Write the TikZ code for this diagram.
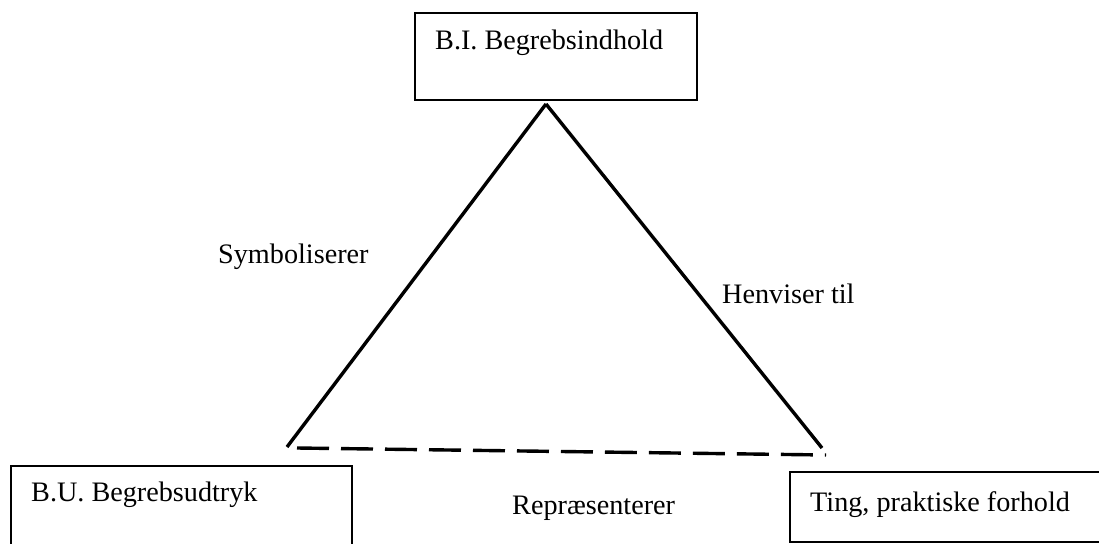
\documentclass[tikz,border=0pt]{standalone}
\usepackage{fontspec}
\setmainfont{Liberation Serif}
\begin{document}
\begin{tikzpicture}[x=1pt,y=-1pt,
  conceptbox/.style={draw=black,line width=1.1pt},
  lbl/.style={font=\fontsize{28.2}{32}\selectfont,inner sep=0pt,anchor=base west},
  edge/.style={line width=3.4pt,line cap=butt},
  dashedge/.style={line width=3.4pt,dash pattern=on 32pt off 12pt}]
\useasboundingbox (0,0) rectangle (1099,543);
\clip (0,0) rectangle (1099,543);
% three boxes
\draw[conceptbox] (415,13) rectangle (697,100);
\draw[conceptbox] (11,466) rectangle (352,560);
\draw[conceptbox] (790,472) rectangle (1110,542);
\node[lbl] (bi) at (435,49) {B.I. Begrebsindhold};
\node[lbl] (bu) at (31,501) {B.U. Begrebsudtryk};
\node[lbl] (ting) at (810,511) {Ting, praktiske forhold};
% triangle corners
\coordinate (top) at (546,104);
\coordinate (left) at (287,447);
\coordinate (right) at (822,448);
\coordinate (dl) at (297,448);
\coordinate (dr) at (826,455);
\draw[edge] (top) -- (left);
\draw[edge] (top) -- (right);
\draw[dashedge] (dl) -- (dr);
% edge labels
\node[lbl] (sym) at (218,263) {Symboliserer};
\node[lbl] (hen) at (722,303) {Henviser til};
\node[lbl] (rep) at (512,514) {Repræsenterer};
\end{tikzpicture}
\end{document}
